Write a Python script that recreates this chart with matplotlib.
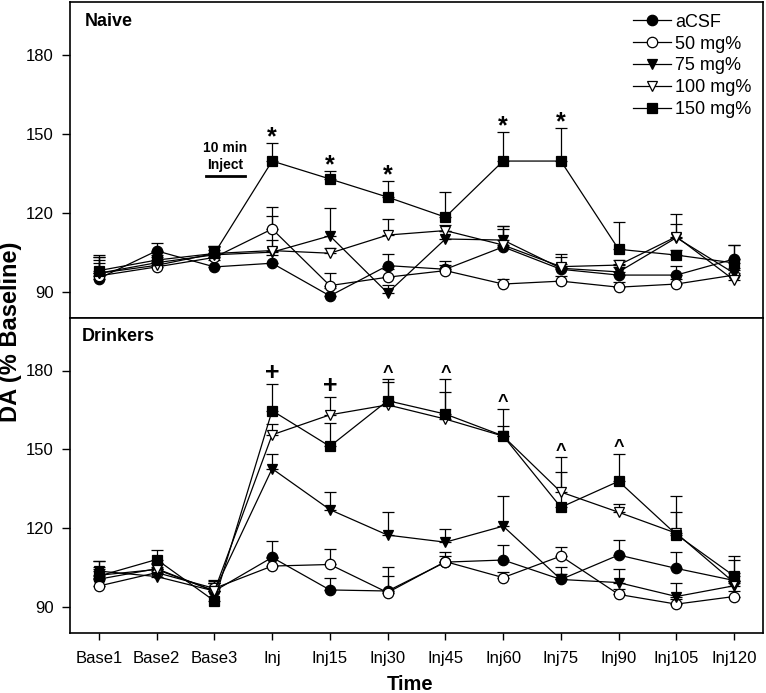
import numpy as np
import matplotlib
matplotlib.use("Agg")
import matplotlib.pyplot as plt

plt.rcParams['font.family'] = ['Liberation Sans', 'DejaVu Sans']

time_labels = ["Base1", "Base2", "Base3", "Inj", "Inj15", "Inj30", "Inj45",
               "Inj60", "Inj75", "Inj90", "Inj105", "Inj120"]
series_names = ["aCSF", "50 mg%", "75 mg%", "100 mg%", "150 mg%"]

# Naive panel means
naive_acsf = [95.0, 105.5, 99.4, 100.8, 88.4, 99.9, 98.5, 107.0, 98.5, 96.3, 96.3, 102.4]
naive_50 = [96.0, 99.4, 103.0, 113.8, 92.3, 95.5, 98.0, 92.9, 94.0, 91.7, 92.9, 96.3]
naive_75 = [97.0, 101.0, 104.0, 105.0, 111.2, 89.5, 110.0, 109.6, 98.9, 97.5, 110.5, 97.0]
naive_100 = [97.0, 100.0, 104.5, 105.6, 104.6, 111.5, 113.2, 107.7, 99.5, 100.1, 110.9, 94.4]
naive_150 = [98.0, 102.0, 104.5, 139.6, 132.8, 125.9, 118.3, 139.6, 139.6, 106.1, 103.9, 100.9]

# Naive panel SEM (upward)
naive_acsf_err = [6.0, 3.0, 2.5, 3.0, 3.0, 4.4, 3.0, 8.0, 2.0, 3.0, 3.4, 5.3]
naive_50_err = [8.0, 2.0, 3.0, 8.2, 4.9, 3.0, 2.0, 2.0, 2.0, 2.0, 2.0, 2.0]
naive_75_err = [5.0, 3.0, 3.0, 4.6, 10.7, 3.0, 3.0, 5.3, 5.4, 3.0, 5.1, 2.0]
naive_100_err = [6.0, 3.0, 3.0, 13.0, 2.0, 6.1, 2.0, 6.0, 3.8, 2.0, 8.6, 2.0]
naive_150_err = [5.0, 3.0, 3.0, 6.8, 3.2, 6.1, 9.5, 11.2, 12.7, 10.5, 2.0, 7.0]

# Drinkers panel means
drink_acsf = [100.5, 104.5, 96.0, 108.8, 96.4, 96.0, 107.0, 107.8, 100.4, 109.7, 104.6, 100.0]
drink_50 = [97.9, 103.0, 97.0, 105.5, 106.1, 95.4, 107.2, 101.1, 109.3, 94.7, 91.0, 93.9]
drink_75 = [103.6, 101.5, 96.0, 142.6, 127.0, 117.3, 114.6, 120.7, 100.4, 99.2, 93.9, 98.0]
drink_100 = [102.0, 104.2, 96.0, 155.5, 163.1, 166.9, 161.5, 155.0, 133.7, 126.0, 118.0, 99.2]
drink_150 = [101.7, 108.0, 92.2, 164.7, 151.1, 168.5, 163.4, 155.1, 127.9, 137.8, 117.5, 101.7]

# Drinkers panel SEM (upward)
drink_acsf_err = [4.0, 2.0, 3.0, 6.2, 4.6, 5.7, 3.8, 5.9, 4.9, 5.6, 6.4, 3.0]
drink_50_err = [3.0, 2.0, 3.0, 3.0, 6.0, 9.9, 2.0, 2.0, 3.6, 2.0, 2.0, 2.0]
drink_75_err = [3.7, 2.0, 3.0, 5.7, 6.7, 8.7, 5.1, 11.6, 2.0, 5.0, 5.3, 2.0]
drink_100_err = [3.0, 2.0, 3.0, 4.0, 6.9, 8.6, 10.5, 4.0, 13.3, 3.0, 8.0, 8.8]
drink_150_err = [5.6, 3.6, 8.0, 10.1, 8.9, 8.3, 13.4, 10.4, 13.3, 10.5, 14.8, 7.6]

# significance symbols: (time index, symbol)
naive_sig = [(3, "*"), (4, "*"), (5, "*"), (7, "*"), (8, "*")]
drink_sig = [(3, "+"), (4, "+"), (5, "^"), (6, "^"), (7, "^"), (8, "^"), (9, "^")]

y_ticks = [90, 120, 150, 180]
inject_bar_x = [1.85, 2.53]
inject_bar_y = 134.0

styles = [
    dict(marker="o", mfc="black", ms=7.5),
    dict(marker="o", mfc="white", ms=7.5),
    dict(marker="v", mfc="black", ms=7.5),
    dict(marker="v", mfc="white", ms=7.5),
    dict(marker="s", mfc="black", ms=6.5),
]

W, H = 766, 693
fig = plt.figure(figsize=(W / 100, H / 100), dpi=100)
left = 70 / W
width = (763 - 70) / W
ax_top = fig.add_axes([left, 1 - 318 / H, width, 316 / H])
ax_bot = fig.add_axes([left, 1 - 633 / H, width, 315 / H])

x = np.arange(len(time_labels))


def draw(ax, means, errs):
    handles = []
    for m, e, st, name in zip(means, errs, styles, series_names):
        m = np.asarray(m)
        e = np.asarray(e)
        cont = ax.errorbar(x, m, yerr=[np.zeros_like(e), e], color="black",
                           lw=0.9, elinewidth=0.9, capsize=4.3, capthick=0.9,
                           marker=st["marker"], ms=st["ms"], mfc=st["mfc"],
                           mec="black", mew=0.9, label=name)
        handles.append(cont[0])
    return handles


naive_means = [naive_acsf, naive_50, naive_75, naive_100, naive_150]
naive_errs = [naive_acsf_err, naive_50_err, naive_75_err, naive_100_err, naive_150_err]
drink_means = [drink_acsf, drink_50, drink_75, drink_100, drink_150]
drink_errs = [drink_acsf_err, drink_50_err, drink_75_err, drink_100_err, drink_150_err]

handles = draw(ax_top, naive_means, naive_errs)
draw(ax_bot, drink_means, drink_errs)


def sig(ax, sigs, means, errs, size, offset):
    tops = np.max(np.asarray(means) + np.asarray(errs), axis=0)
    for idx, sym in sigs:
        fs = size[sym]
        ax.annotate(sym, xy=(x[idx], tops[idx]), xytext=(0, offset[sym]),
                    textcoords="offset points", ha="center", va="baseline",
                    fontsize=fs, fontweight="bold")


sizes = {"*": 18, "+": 18, "^": 13}
offs = {"*": -1, "+": 3, "^": 1}
sig(ax_top, naive_sig, naive_means, naive_errs, sizes, offs)
sig(ax_bot, drink_sig, drink_means, drink_errs, sizes, offs)

# inject bar + label
ax_top.plot(inject_bar_x, [inject_bar_y, inject_bar_y], color="black", lw=2)
ax_top.text(np.mean(inject_bar_x), 144.6, "10 min", ha="center", va="center",
            fontsize=10, fontweight="bold")
ax_top.text(np.mean(inject_bar_x), 138.1, "Inject", ha="center", va="center",
            fontsize=10, fontweight="bold")

for ax in (ax_top, ax_bot):
    ax.set_xlim(-0.5, len(time_labels) - 0.5)
    ax.set_ylim(80, 200)
    ax.set_yticks(y_ticks)
    ax.tick_params(axis="y", direction="out", length=5.8, width=1.0,
                   labelsize=12, pad=6)
    for s in ax.spines.values():
        s.set_linewidth(1.2)

ax_top.set_xticks([])
ax_bot.set_xticks(x)
ax_bot.set_xticklabels(time_labels)
ax_bot.tick_params(axis="x", direction="out", length=5, width=1.0,
                   labelsize=12, pad=8)

ax_top.text(15 / 693, 1 - 20 / 316, "Naive", transform=ax_top.transAxes,
            ha="left", va="center", fontsize=13, fontweight="bold")
ax_bot.text(12 / 693, 1 - 18.7 / 315, "Drinkers", transform=ax_bot.transAxes,
            ha="left", va="center", fontsize=13, fontweight="bold")

ax_top.legend(handles, series_names, loc="upper right", frameon=False,
              fontsize=13, handlelength=2.1, handletextpad=0.22,
              labelspacing=0.27, borderpad=0.25, borderaxespad=0.4)

fig.text(17 / W, 1 - 332 / H, "DA (% Baseline)", rotation=90, ha="center",
         va="baseline", rotation_mode="anchor", fontsize=17, fontweight="bold")
fig.text(410 / W, 1 - 684 / H, "Time", ha="center", va="center",
         fontsize=14.5, fontweight="bold")

fig.savefig("out.png", dpi=100)
